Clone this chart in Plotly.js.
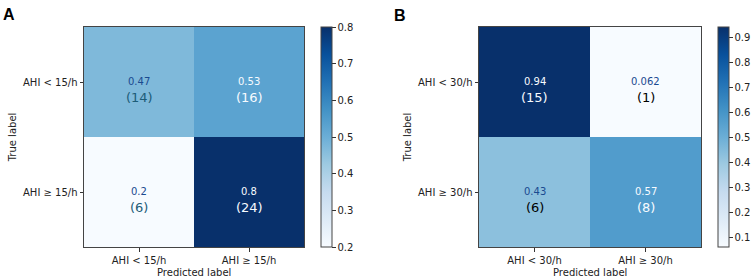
<!DOCTYPE html>
<html>
<head>
<meta charset="utf-8">
<script src="https://cdn.plot.ly/plotly-3.0.1.min.js"></script>
<style>html,body{margin:0;padding:0;background:#fff;}#chart{width:753px;height:277px;}</style>
</head>
<body>
<div id="chart"></div>
<script>
// ---- data ----
const labelsA = ['AHI < 15/h', 'AHI \u2265 15/h'];
const labelsB = ['AHI < 30/h', 'AHI \u2265 30/h'];
const normA = [[0.47, 0.53], [0.2, 0.8]];
const countsA = [[14, 16], [6, 24]];
const normB = [[0.94, 0.062], [0.43, 0.57]];
const countsB = [[15, 1], [6, 8]];
const panelTitles = ['A', 'B'];
const axisTitleX = 'Predicted label';
const axisTitleY = 'True label';
const ticksA = [0.2, 0.3, 0.4, 0.5, 0.6, 0.7, 0.8];
const ticksB = [0.1, 0.2, 0.3, 0.4, 0.5, 0.6, 0.7, 0.8, 0.9];

// ---- styles ----
const blues = [
  [0.0, '#f7fbff'], [0.125, '#deebf7'], [0.25, '#c6dbef'], [0.375, '#9ecae1'],
  [0.5, '#6baed6'], [0.625, '#4292c6'], [0.75, '#2171b5'], [0.875, '#08519c'], [1.0, '#08306b']
];
const FONT = 'DejaVu Sans, sans-serif';
const lineCol = '#444';

function heat(labels, z, xa, ya, cbx, ticks) {
  const flat = z.flat();
  return {
    type: 'heatmap', x: labels, y: labels, z: z,
    xaxis: xa, yaxis: ya,
    colorscale: blues, zmin: Math.min(...flat), zmax: Math.max(...flat),
    hoverinfo: 'skip',
    colorbar: {
      x: cbx, xanchor: 'left', xpad: 0, ypad: 0,
      y: (277 - 137) / 277, yanchor: 'middle',
      len: 220, lenmode: 'pixels', thickness: 11,
      outlinewidth: 1, outlinecolor: lineCol,
      tickmode: 'array', tickvals: ticks, ticktext: ticks.map(v => v.toFixed(1)),
      ticks: 'outside', ticklen: 3.5, tickcolor: '#333',
      tickfont: {family: FONT, size: 10, color: '#222'}
    }
  };
}

function annots(labels, z, counts, xa, ya, lightCountColor) {
  const flat = z.flat();
  const thr = (Math.min(...flat) + Math.max(...flat)) / 2;
  const out = [];
  for (let i = 0; i < labels.length; i++) {
    for (let j = 0; j < labels.length; j++) {
      const dark = z[i][j] > thr;
      out.push({
        x: labels[j], y: labels[i], xref: xa, yref: ya, showarrow: false,
        text: String(z[i][j]), yshift: 1,
        font: {family: FONT, size: 10, color: dark ? '#f7fbff' : '#1a4a90'}
      });
      out.push({
        x: labels[j], y: labels[i], xref: xa, yref: ya, showarrow: false,
        text: '(' + counts[i][j] + ')', yshift: -15,
        font: {family: FONT, size: 13, color: dark ? '#f7fbff' : lightCountColor}
      });
    }
  }
  return out;
}

const W = 753, H = 277;
const yDom = [(H - 247) / H, (H - 27) / H];
function xax(d0, d1, anchor) {
  return {
    domain: [d0 / W, d1 / W], anchor: anchor, type: 'category',
    showline: true, mirror: true, linecolor: lineCol, linewidth: 1,
    ticks: 'outside', ticklen: 3.5, tickcolor: '#333', showgrid: false, zeroline: false,
    tickfont: {family: FONT, size: 10, color: '#222'},
    fixedrange: true
  };
}
function yax(anchor) {
  return {
    domain: yDom, anchor: anchor, type: 'category', autorange: 'reversed',
    showline: true, mirror: true, linecolor: lineCol, linewidth: 1,
    ticks: 'outside', ticklen: 3.5, tickcolor: '#333', showgrid: false, zeroline: false,
    tickfont: {family: FONT, size: 10, color: '#222'},
    title: {text: axisTitleY, standoff: 4, font: {family: FONT, size: 10, color: '#222'}},
    fixedrange: true
  };
}

const data = [
  heat(labelsA, normA, 'x', 'y', 321 / W, ticksA),
  heat(labelsB, normB, 'x2', 'y2', 718 / W, ticksB)
];

function xTitle(xdomref) {
  return {text: axisTitleX, xref: xdomref, yref: 'paper', x: 0.5, y: 1 - 272 / H,
    xanchor: 'center', yanchor: 'middle', showarrow: false,
    font: {family: FONT, size: 10, color: '#222'}};
}

const annotations = [
  ...annots(labelsA, normA, countsA, 'x', 'y', '#1d5c78'),
  ...annots(labelsB, normB, countsB, 'x2', 'y2', '#000000'),
  xTitle('x domain'), xTitle('x2 domain'),
  {text: '<b>' + panelTitles[0] + '</b>', xref: 'paper', yref: 'paper', x: 1 / W, y: 1 - 4 / H,
   xanchor: 'left', yanchor: 'top', showarrow: false,
   font: {family: 'Liberation Sans, Arial, sans-serif', size: 16, color: '#000'}},
  {text: '<b>' + panelTitles[1] + '</b>', xref: 'paper', yref: 'paper', x: 392 / W, y: 1 - 5 / H,
   xanchor: 'left', yanchor: 'top', showarrow: false,
   font: {family: 'Liberation Sans, Arial, sans-serif', size: 16, color: '#000'}}
];

const layout = {
  width: W, height: H,
  margin: {l: 0, r: 0, t: 0, b: 0},
  paper_bgcolor: '#fff', plot_bgcolor: '#fff',
  showlegend: false,
  xaxis: xax(84, 304, 'y'),
  yaxis: yax('x'),
  xaxis2: xax(479, 701, 'y2'),
  yaxis2: yax('x2'),
  annotations: annotations
};

Plotly.newPlot('chart', data, layout, {displayModeBar: false, staticPlot: true});
</script>
</body>
</html>
